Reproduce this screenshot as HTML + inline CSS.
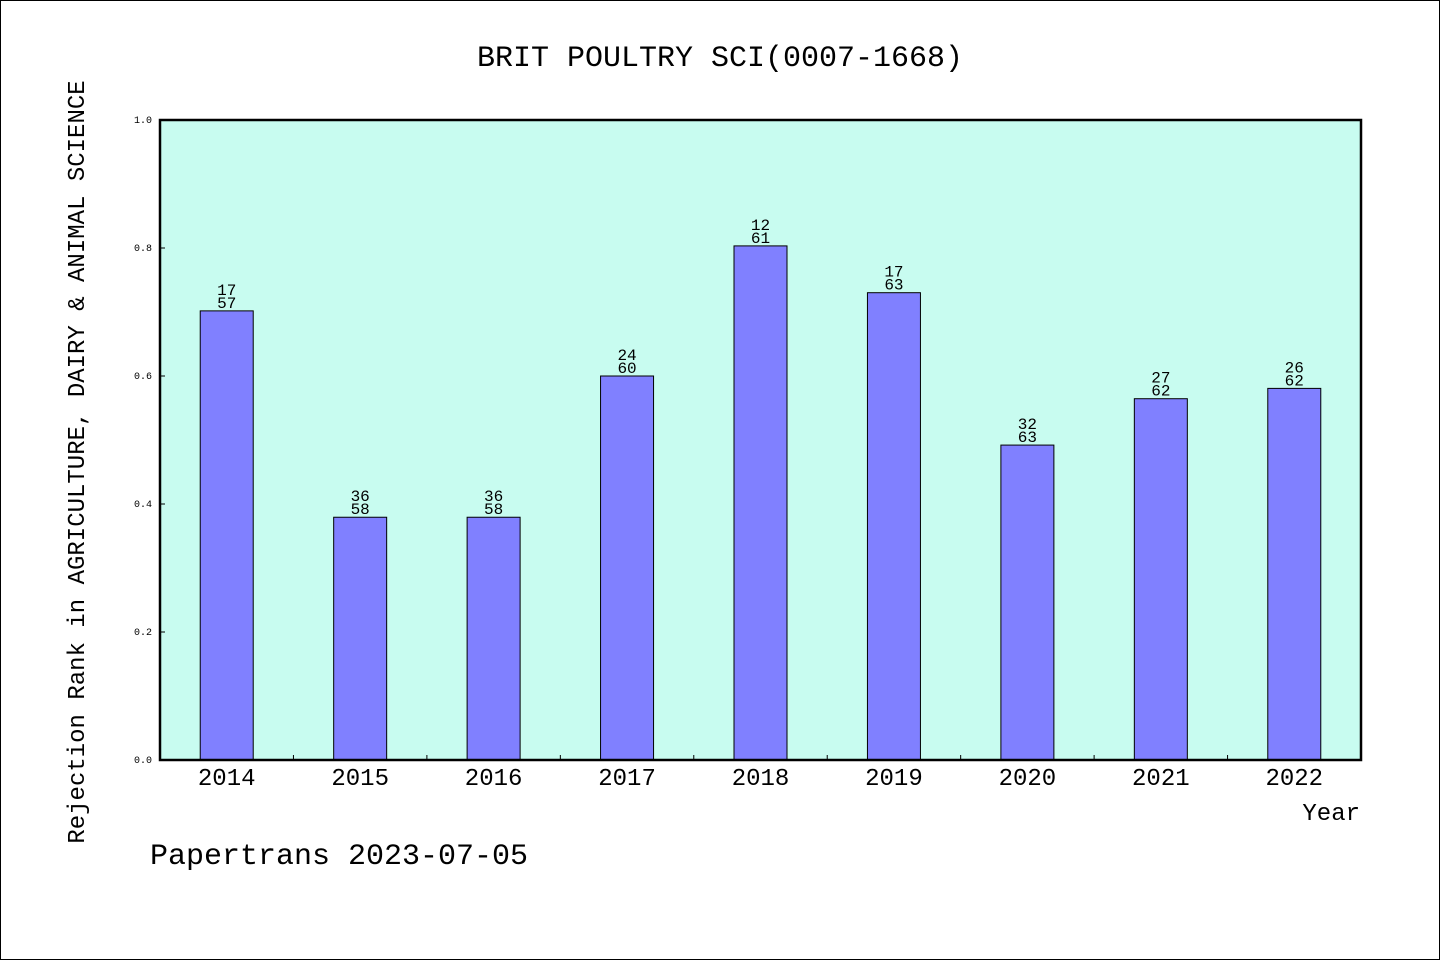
<!DOCTYPE html>
<html><head><meta charset="utf-8"><style>
html,body{margin:0;padding:0;background:#fff}
svg{display:block}
text{font-family:"WenQuanYi Zen Hei Mono","Liberation Mono","WenQuanYi Zen Hei",monospace;fill:#000}
</style></head><body>
<svg id="chart" width="1440" height="960" xmlns="http://www.w3.org/2000/svg">
<rect x="0.5" y="0.5" width="1439" height="959" fill="#fff" stroke="#000"/>
<text x="720" y="66" font-size="30" text-anchor="middle">BRIT POULTRY SCI(0007-1668)</text>
<rect x="160" y="120" width="1201" height="640" fill="#c8fcf0"/>
<g id="bars"></g>
<rect x="160" y="120" width="1201" height="640" fill="none" stroke="#000" stroke-width="2.5"/>
<text transform="translate(84,462) rotate(-90)" font-size="24" text-anchor="middle">Rejection Rank in AGRICULTURE, DAIRY &amp; ANIMAL SCIENCE</text>
<text x="1360" y="820" font-size="24" text-anchor="end">Year</text>
<text x="150" y="864" font-size="30">Papertrans 2023-07-05</text>
</svg>
<script>
const years=["2014","2015","2016","2017","2018","2019","2020","2021","2022"];
const ranks=[17,36,36,24,12,17,32,27,26];
const totals=[57,58,58,60,61,63,63,62,62];
const yTicks=[0,0.2,0.4,0.6,0.8,1.0];
const NS="http://www.w3.org/2000/svg";
const svg=document.getElementById('chart');
const g=document.getElementById('bars');
const x0=160,x1=1361,yTop=120,yBot=760;
const step=(x1-x0)/years.length;
const xc=i=>x0+step*(i+0.5);
const yS=v=>yBot-(yBot-yTop)*v;
function mk(tag,attrs,parent){const e=document.createElementNS(NS,tag);for(const k in attrs)e.setAttribute(k,attrs[k]);(parent||svg).appendChild(e);return e;}
years.forEach((yr,i)=>{
  const v=1-ranks[i]/totals[i];
  const bw=53;
  const r=mk('rect',{x:xc(i)-bw/2,y:yS(v),width:bw,height:yBot-yS(v),fill:'#8080ff',stroke:'#000','stroke-width':1},g);
  
  
  const t1=mk('text',{x:xc(i),y:yS(v)-16,'font-size':16,'text-anchor':'middle'},g);
  t1.textContent=ranks[i];
  
  
  const t2=mk('text',{x:xc(i),y:yS(v)-3,'font-size':16,'text-anchor':'middle'},g);
  t2.textContent=totals[i];
  
  
  const xl=mk('text',{x:xc(i),y:785,'font-size':24,'text-anchor':'middle'});
  xl.textContent=yr;
  
  
  if(i>0){const tk=mk('line',{x1:x0+step*i,x2:x0+step*i,y1:yBot,y2:yBot-5,stroke:'#000'});
  
  }
});
yTicks.forEach(v=>{
  const tk=mk('line',{x1:x0,x2:x0+5,y1:yS(v),y2:yS(v),stroke:'#000'});
  
  
  const t=mk('text',{x:152,y:yS(v)+3,'font-size':10,'text-anchor':'end'});
  t.textContent=v.toFixed(1);
  
  
});
</script>
</body></html>
